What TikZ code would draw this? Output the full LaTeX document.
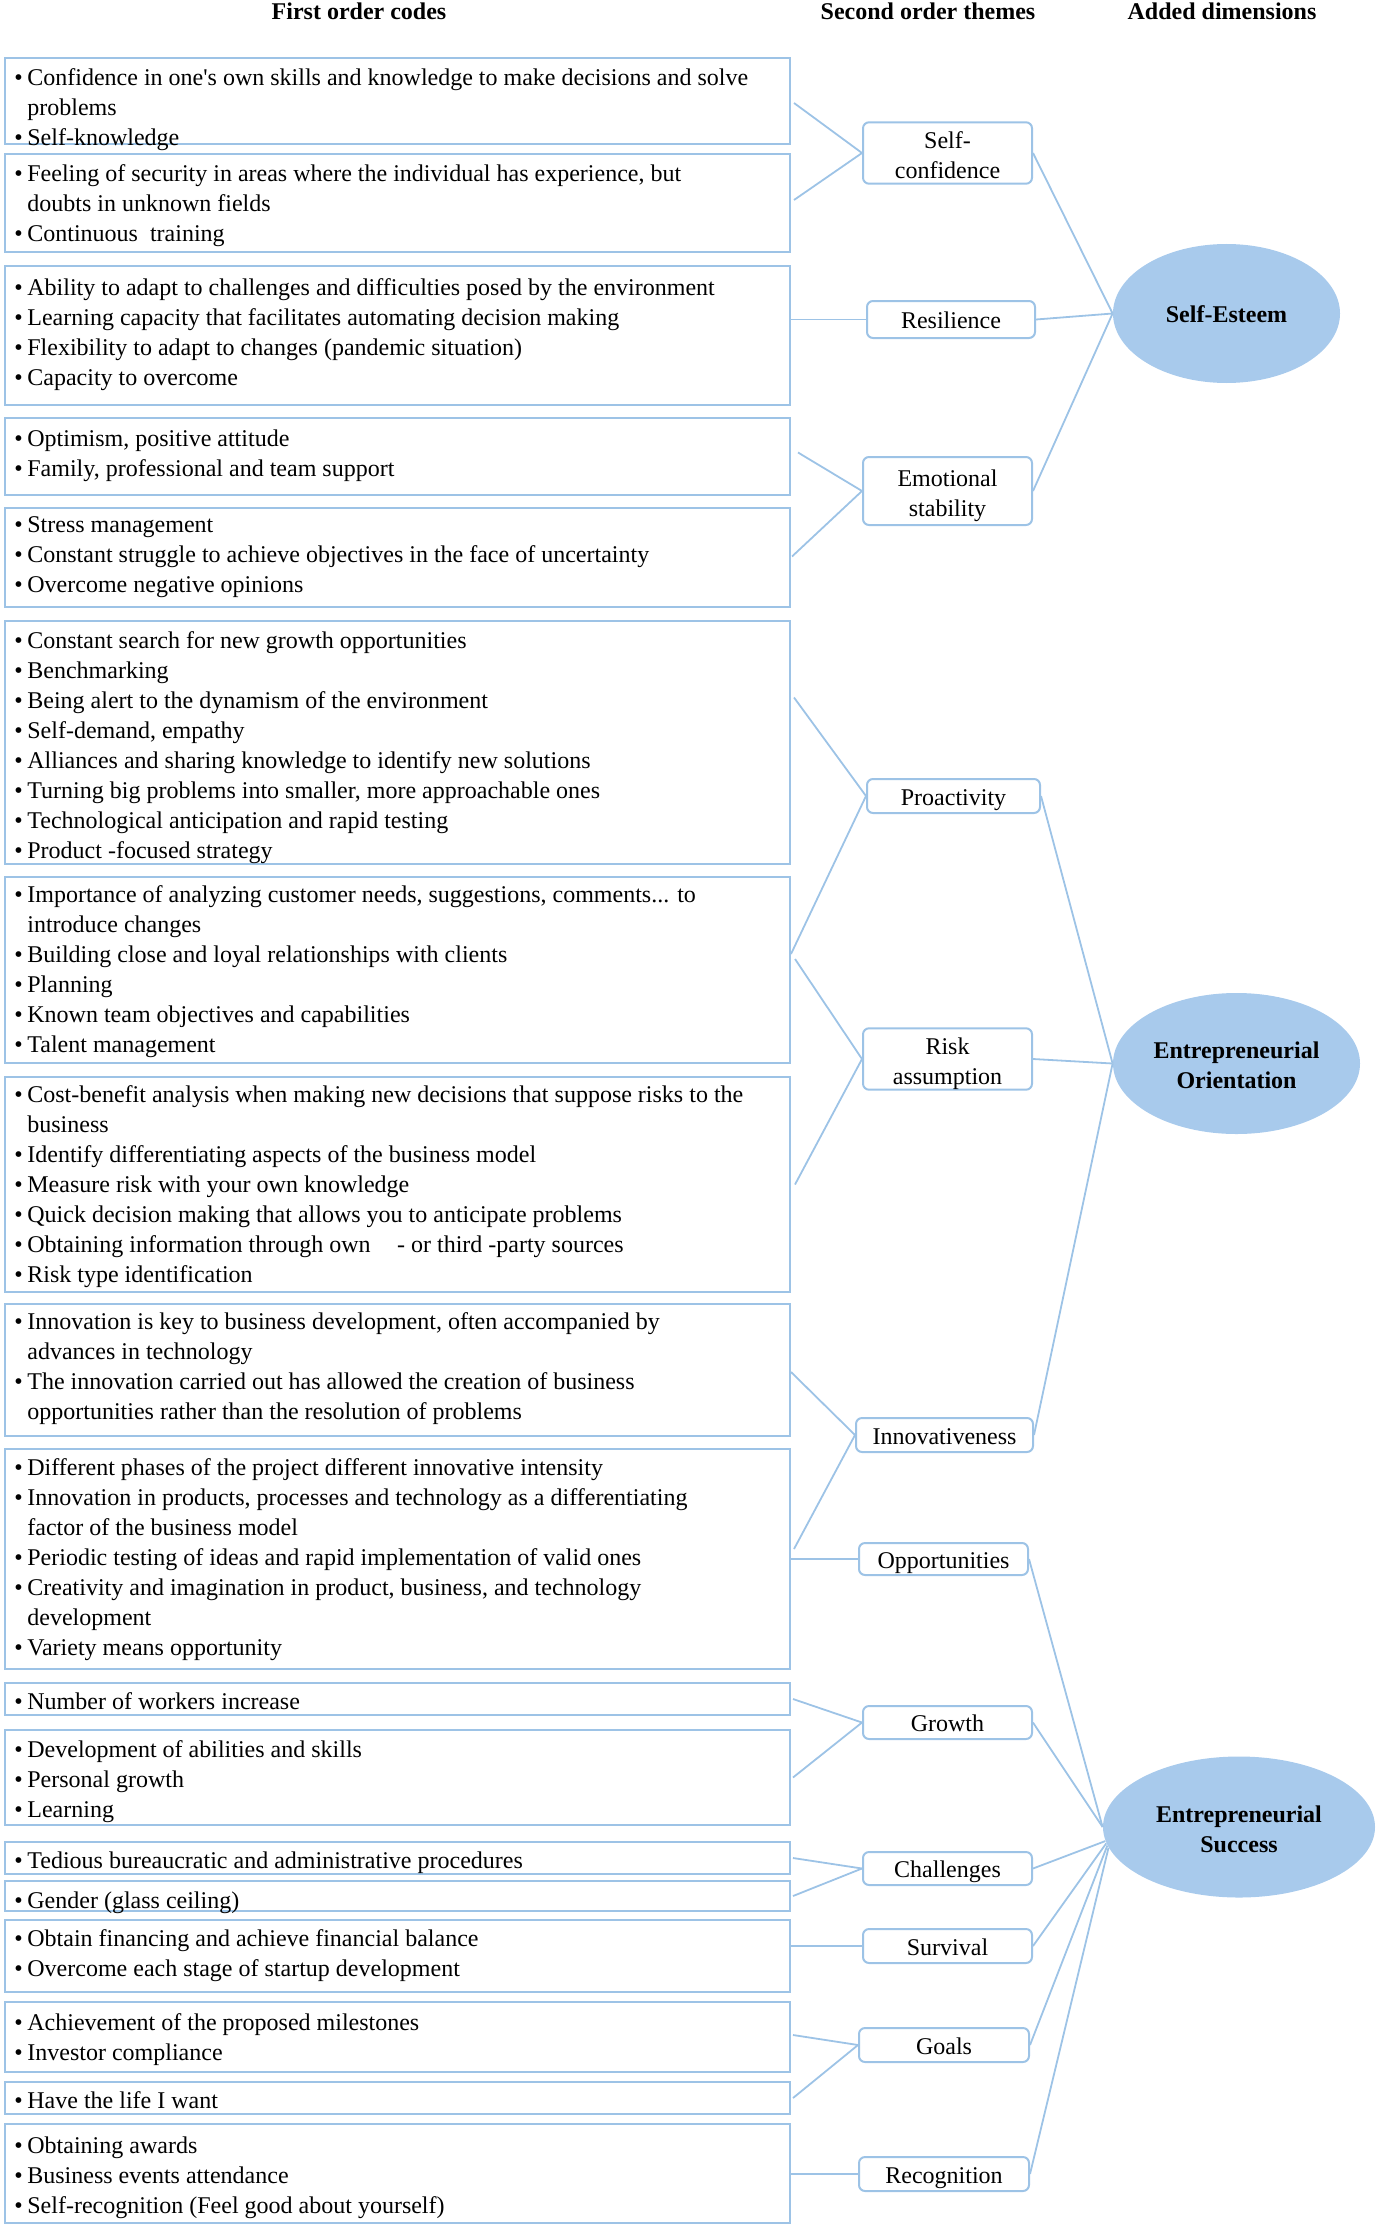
\documentclass[tikz,border=0pt]{standalone}
\usepackage{fontspec}
\setmainfont{Liberation Serif}[Ligatures=TeXOff]
\usetikzlibrary{shapes.geometric}
\definecolor{lnc}{RGB}{157,195,230}
\definecolor{elf}{RGB}{168,202,236}
\newcommand\bul{\makebox[6.5pt][l]{\textbullet}}
\newcommand\ind{\hspace*{6.5pt}}
\newcommand\topst{\rule{0pt}{13pt}}
\newcommand\botst{\rule[-2.7pt]{0pt}{2.7pt}}
\begin{document}
\begin{tikzpicture}[x=0.5pt,y=-0.5pt,
 font=\fontsize{12}{15}\selectfont,
 codebox/.style={draw=lnc, line width=1pt, minimum width=392.5pt, inner sep=0pt, anchor=north west},
 codetxt/.style={anchor=north west, inner sep=0pt, align=left},
 theme/.style={draw=lnc, line width=1pt, rounded corners=3pt, inner sep=0pt, align=center, fill=white},
 themeone/.style={theme, text height=10pt, text depth=1pt},
 dim/.style={ellipse, fill=elf, inner sep=0pt, align=center, font=\fontsize{12}{15}\selectfont\bfseries},
 conn/.style={draw=lnc, line width=0.9pt},
 head/.style={font=\fontsize{12}{15}\selectfont\bfseries}]
\useasboundingbox (0,0) rectangle (1378,2226);

% headers
\node[head] (h1) at (359,11) {First order codes};
\node[head] (h2) at (928,11) {Second order themes};
\node[head] (h3) at (1222,11) {Added dimensions};

% first order code boxes
\node[codebox, minimum height=43pt]   (b1)  at (4,57)   {};
\node[codebox, minimum height=49pt]   (b2)  at (4,153)  {};
\node[codebox, minimum height=69.5pt] (b3)  at (4,265)  {};
\node[codebox, minimum height=38.5pt] (b4)  at (4,417)  {};
\node[codebox, minimum height=49.5pt] (b5)  at (4,507)  {};
\node[codebox, minimum height=121.5pt](b6)  at (4,620)  {};
\node[codebox, minimum height=93pt]   (b7)  at (4,876)  {};
\node[codebox, minimum height=107.5pt](b8)  at (4,1076) {};
\node[codebox, minimum height=66pt]   (b9)  at (4,1303) {};
\node[codebox, minimum height=110pt]  (b10) at (4,1448) {};
\node[codebox, minimum height=16pt]   (b11) at (4,1682) {};
\node[codebox, minimum height=47.5pt] (b12) at (4,1729) {};
\node[codebox, minimum height=16pt]   (b13) at (4,1841) {};
\node[codebox, minimum height=15pt]   (b14) at (4,1880) {};
\node[codebox, minimum height=36pt]   (b15) at (4,1919) {};
\node[codebox, minimum height=35pt]   (b16) at (4,2001) {};
\node[codebox, minimum height=16pt]   (b17) at (4,2081) {};
\node[codebox, minimum height=49.5pt] (b18) at (4,2123) {};

% texts
\node[codetxt] (t1) at ([shift={(10,11)}]b1.north west) {\bul Confidence in one's own skills and knowledge to make decisions and solve\\ \ind problems\\ \bul Self-knowledge};
\node[codetxt] (t2) at ([shift={(10,11)}]b2.north west) {\bul Feeling of security in areas where the individual has experience, but\\ \ind doubts in unknown fields\\ \bul Continuous\ \ training};
\node[codetxt] (t3) at ([shift={(10,13)}]b3.north west) {\bul Ability to adapt to challenges and difficulties posed by the environment\\ \bul Learning capacity that facilitates automating decision making\\ \bul Flexibility to adapt to changes (pandemic situation)\\ \bul Capacity to overcome};
\node[codetxt] (t4) at ([shift={(10,12)}]b4.north west) {\bul Optimism, positive attitude\\ \bul Family, professional and team support};
\node[codetxt] (t5) at ([shift={(10,9)}]b5.north west) {\bul Stress management\\ \bul Constant struggle to achieve objectives in the face of uncertainty\\ \bul Overcome negative opinions};
\node[codetxt] (t6) at ([shift={(10,11)}]b6.north west) {\bul Constant search for new growth opportunities\\ \bul Benchmarking\\ \bul Being alert to the dynamism of the environment\\ \bul Self-demand, empathy\\ \bul Alliances and sharing knowledge to identify new solutions\\ \bul Turning big problems into smaller, more approachable ones\\ \bul Technological anticipation and rapid testing\\ \bul Product -focused strategy};
\node[codetxt] (t7) at ([shift={(10,9)}]b7.north west) {\bul Importance of analyzing customer needs, suggestions, comments... to\\ \ind introduce changes\\ \bul Building close and loyal relationships with clients\\ \bul Planning\\ \bul Known team objectives and capabilities\\ \bul Talent management};
\node[codetxt] (t8) at ([shift={(10,9)}]b8.north west) {\bul Cost-benefit analysis when making new decisions that suppose risks to the\\ \ind business\\ \bul Identify differentiating aspects of the business model\\ \bul Measure risk with your own knowledge\\ \bul Quick decision making that allows you to anticipate problems\\ \bul Obtaining information through own\hspace{1.1em}- or third -party sources\\ \bul Risk type identification};
\node[codetxt] (t9) at ([shift={(10,9)}]b9.north west) {\bul Innovation is key to business development, often accompanied by\\ \ind advances in technology\\ \bul The innovation carried out has allowed the creation of business\\ \ind opportunities rather than the resolution of problems};
\node[codetxt] (t10) at ([shift={(10,10)}]b10.north west) {\bul Different phases of the project different innovative intensity\\ \bul Innovation in products, processes and technology as a differentiating\\ \ind factor of the business model\\ \bul Periodic testing of ideas and rapid implementation of valid ones\\ \bul Creativity and imagination in product, business, and technology\\ \ind development\\ \bul Variety means opportunity};
\node[codetxt] (t11) at ([shift={(10,10)}]b11.north west) {\bul Number of workers increase};
\node[codetxt] (t12) at ([shift={(10,11)}]b12.north west) {\bul Development of abilities and skills\\ \bul Personal growth\\ \bul Learning};
\node[codetxt] (t13) at ([shift={(10,10)}]b13.north west) {\bul Tedious bureaucratic and administrative procedures};
\node[codetxt] (t14) at ([shift={(10,11)}]b14.north west) {\bul Gender (glass ceiling)};
\node[codetxt] (t15) at ([shift={(10,10)}]b15.north west) {\bul Obtain financing and achieve financial balance\\ \bul Overcome each stage of startup development};
\node[codetxt] (t16) at ([shift={(10,12)}]b16.north west) {\bul Achievement of the proposed milestones\\ \bul Investor compliance};
\node[codetxt] (t17) at ([shift={(10,10)}]b17.north west) {\bul Have the life I want};
\node[codetxt] (t18) at ([shift={(10,13)}]b18.north west) {\bul Obtaining awards\\ \bul Business events attendance\\ \bul Self-recognition (Feel good about yourself)};

% second order themes
\node[theme, minimum width=84.5pt, minimum height=27pt] (sc)  at (947.5,153)  {\topst Self-\\confidence\botst};
\node[themeone, minimum width=84pt,   minimum height=18.5pt] (res) at (951,319.5) {Resilience};
\node[theme, minimum width=84.5pt, minimum height=34pt] (emo) at (947.5,491)  {\topst Emotional\\stability\botst};
\node[themeone, minimum width=86.5pt, minimum height=17pt] (pro) at (953.5,796)  {Proactivity};
\node[theme, minimum width=84.5pt, minimum height=27pt] (risk) at (947.5,1059) {\topst Risk\\assumption\botst};
\node[themeone, minimum width=88.5pt, minimum height=17pt] (inn) at (944.5,1435) {Innovativeness};
\node[themeone, minimum width=84.5pt, minimum height=16pt] (opp) at (943.5,1559) {Opportunities};
\node[themeone, minimum width=84.5pt, minimum height=16.5pt] (gro) at (947.5,1722.5) {Growth};
\node[themeone, minimum width=84.5pt, minimum height=16.5pt] (cha) at (947.5,1868.5) {Challenges};
\node[themeone, minimum width=84.5pt, minimum height=17pt] (sur) at (947.5,1946) {Survival};
\node[themeone, minimum width=85pt,   minimum height=17pt] (goa) at (944,2045) {Goals};
\node[themeone, minimum width=85pt,   minimum height=17pt] (rec) at (944,2174) {Recognition};

% dimensions
\node[dim, text height=10pt, text depth=1pt, minimum width=113.5pt, minimum height=69.5pt] (se) at (1226.5,313.5) {Self-Esteem};
\node[dim, minimum width=123.5pt, minimum height=70.5pt] (eo) at (1236.5,1063.5) {\topst Entrepreneurial\\Orientation\botst};
\node[dim, minimum width=136pt,   minimum height=70.5pt] (es) at (1239,1827) {\topst Entrepreneurial\\Success\botst};

% connectors: codes -> themes
\draw[conn] ([shift={(3,2)}]b1.east) -- (sc.west);
\draw[conn] ([shift={(3,-3)}]b2.east) -- (sc.west);
\draw[conn] (b3.east |- res.west) -- (res.west);
\draw[conn] ([shift={(7,-4)}]b4.east) -- (emo.west);
\draw[conn] ([shift={(1,-1)}]b5.east) -- (emo.west);
\draw[conn] ([shift={(3,-45)}]b6.east) -- (pro.west);
\draw[conn] ([shift={(0,-16)}]b7.east) -- (pro.west);
\draw[conn] ([shift={(4,-11)}]b7.east) -- (risk.west);
\draw[conn] ([shift={(4,0)}]b8.east) -- (risk.west);
\draw[conn] ([shift={(0,2)}]b9.east) -- (inn.west);
\draw[conn] ([shift={(3,-10)}]b10.east) -- (inn.west);
\draw[conn] (b10.east |- opp.west) -- (opp.west);
\draw[conn] ([shift={(2,0)}]b11.east) -- (gro.west);
\draw[conn] ([shift={(2,0)}]b12.east) -- (gro.west);
\draw[conn] ([shift={(2,0)}]b13.east) -- (cha.west);
\draw[conn] ([shift={(2,0)}]b14.east) -- (cha.west);
\draw[conn] (b15.east |- sur.west) -- (sur.west);
\draw[conn] ([shift={(2,-2)}]b16.east) -- (goa.west);
\draw[conn] ([shift={(2,0)}]b17.east) -- (goa.west);
\draw[conn] (b18.east |- rec.west) -- (rec.west);

% connectors: themes -> dimensions
\draw[conn] (sc.east) -- (se.west);
\draw[conn] (res.east) -- (se.west);
\draw[conn] (emo.east) -- (se.west);
\draw[conn] (pro.east) -- (eo.west);
\draw[conn] (risk.east) -- (eo.west);
\draw[conn] (inn.east) -- (eo.west);
\draw[conn] (opp.east) -- (es.west);
\draw[conn] (gro.east) -- (es.west);
\draw[conn] (cha.east) -- (es.186);
\draw[conn] (sur.east) -- (es.187);
\draw[conn] (goa.east) -- (es.188);
\draw[conn] (rec.east) -- (es.189);
\end{tikzpicture}
\end{document}
